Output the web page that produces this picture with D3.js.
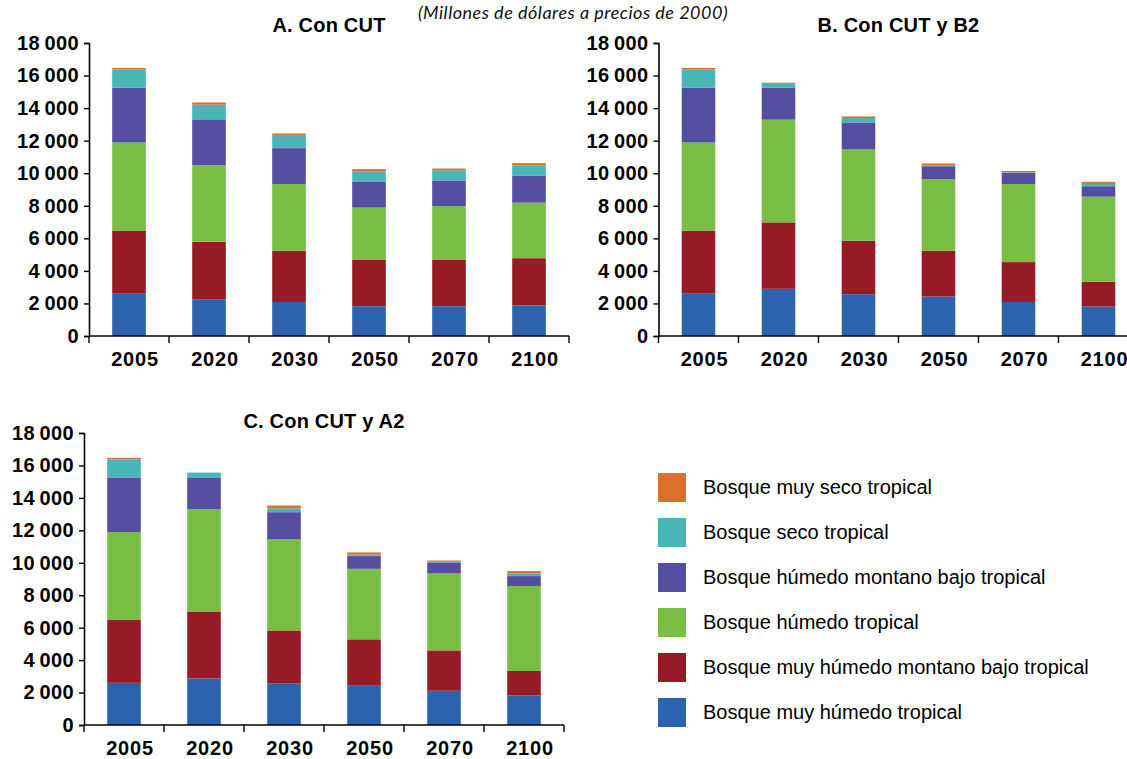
<!DOCTYPE html>
<html><head><meta charset="utf-8">
<script src="https://cdn.jsdelivr.net/npm/d3@7"></script>
<style>
body{margin:0;background:#fff;}
svg{display:block;}
</style></head>
<body>
<svg id="chart" width="1127" height="759"></svg>
<script>
const years = ["2005","2020","2030","2050","2070","2100"];
const seriesNames = [
  "Bosque muy húmedo tropical",
  "Bosque muy húmedo montano bajo tropical",
  "Bosque húmedo tropical",
  "Bosque húmedo montano bajo tropical",
  "Bosque seco tropical",
  "Bosque muy seco tropical"
];
const seriesColors = ["#2B63AF","#961B27","#78BE43","#544DA0","#48B5B6","#D9702B"];
const yTicks = [0,2000,4000,6000,8000,10000,12000,14000,16000,18000];
const subtitle = "(Millones de dólares a precios de 2000)";
const panelTitles = ["A. Con CUT","B. Con CUT y B2","C. Con CUT y A2"];

// Panel A: Con CUT
const aMuyHumedoTropical      = [2600, 2260, 2090, 1830, 1830, 1870];
const aMuyHumedoMontanoBajo   = [3870, 3530, 3150, 2870, 2870, 2910];
const aHumedoTropical         = [5420, 4700, 4100, 3190, 3270, 3410];
const aHumedoMontanoBajo      = [3370, 2820, 2200, 1600, 1580, 1670];
const aSecoTropical           = [1110,  900,  760,  610,  630,  610];
const aMuySecoTropical        = [ 100,  140,  140,  150,  110,  150];
// Panel B: Con CUT y B2
const bMuyHumedoTropical      = [2600, 2900, 2570, 2420, 2090, 1810];
const bMuyHumedoMontanoBajo   = [3870, 4080, 3280, 2820, 2450, 1520];
const bHumedoTropical         = [5420, 6310, 5610, 4390, 4800, 5230];
const bHumedoMontanoBajo      = [3370, 1970, 1660,  800,  680,  640];
const bSecoTropical           = [1110,  280,  270,   40,   40,  140];
const bMuySecoTropical        = [ 100,   20,  100,  130,   80,  130];
// Panel C: Con CUT y A2
const cMuyHumedoTropical      = [2600, 2870, 2570, 2420, 2110, 1830];
const cMuyHumedoMontanoBajo   = [3870, 4130, 3260, 2860, 2490, 1500];
const cHumedoTropical         = [5420, 6310, 5610, 4350, 4740, 5230];
const cHumedoMontanoBajo      = [3370, 1950, 1680,  780,  680,  620];
const cSecoTropical           = [1110,  300,  230,  100,   40,  160];
const cMuySecoTropical        = [ 100,    0,  180,  130,   80,  150];

const panelSeries = [
  [aMuyHumedoTropical,aMuyHumedoMontanoBajo,aHumedoTropical,aHumedoMontanoBajo,aSecoTropical,aMuySecoTropical],
  [bMuyHumedoTropical,bMuyHumedoMontanoBajo,bHumedoTropical,bHumedoMontanoBajo,bSecoTropical,bMuySecoTropical],
  [cMuyHumedoTropical,cMuyHumedoMontanoBajo,cHumedoTropical,cHumedoMontanoBajo,cSecoTropical,cMuySecoTropical]
];

const layouts = [
  {x0: 89,    x1: 569,    y0: 336, y1: 43,  titleY: 32},
  {x0: 658.5, x1: 1138.5, y0: 336, y1: 43,  titleY: 32},
  {x0: 84,    x1: 564,    y0: 725, y1: 433, titleY: 428}
];

const svg = d3.select("#chart");
const FONT = "'Liberation Sans', Arial, Helvetica, sans-serif";
const fmt = v => v >= 1000 ? d3.format(",")(v).replace(/,/g, "\u2009") : String(v);

svg.append("text")
  .attr("x", 573).attr("y", 19)
  .attr("text-anchor","middle")
  .attr("font-family","Lato, 'Open Sans', sans-serif")
  .attr("font-style","italic")
  .attr("font-size", 18)
  .attr("letter-spacing", "0.5")
  .attr("fill","#111")
  .text(subtitle);

panelSeries.forEach((series, p) => {
  const L = layouts[p];
  const g = svg.append("g");
  const x = d3.scaleBand().domain(years).range([L.x0, L.x1]).paddingInner(0.58).paddingOuter(0.29);
  const y = d3.scaleLinear().domain([0, 18000]).range([L.y0, L.y1]);

  const rows = years.map((yr, i) => {
    const r = {year: yr};
    seriesNames.forEach((n, k) => r[n] = series[k][i]);
    return r;
  });
  const stacked = d3.stack().keys(seriesNames)(rows);

  g.selectAll("g.layer").data(stacked).join("g")
    .attr("fill", (d, k) => seriesColors[k])
    .selectAll("rect").data(d => d).join("rect")
    .attr("x", d => x(d.data.year))
    .attr("width", x.bandwidth())
    .attr("y", d => y(d[1]))
    .attr("height", d => Math.max(0, y(d[0]) - y(d[1])));

  // y axis
  const ya = g.append("g").attr("transform", `translate(${L.x0},0)`)
    .call(d3.axisLeft(y).tickValues(yTicks).tickSize(5).tickPadding(5).tickFormat(fmt));
  ya.select(".domain").attr("stroke","#000").attr("stroke-width",1.6);
  ya.selectAll(".tick line").attr("stroke","#000").attr("stroke-width",1.4);
  ya.selectAll(".tick text").attr("font-family",FONT).attr("font-weight","bold")
    .attr("font-size",20).attr("fill","#000").attr("letter-spacing","0.4");

  // x axis: labels only, then boundary ticks
  const xa = g.append("g").attr("transform", `translate(0,${L.y0})`)
    .call(d3.axisBottom(x).tickSize(0).tickPadding(16));
  xa.select(".domain").remove();
  xa.selectAll(".tick text").attr("font-family",FONT).attr("font-weight","bold")
    .attr("font-size",20).attr("fill","#000").attr("dx", 6).attr("letter-spacing","0.8");
  g.append("line").attr("x1", L.x0).attr("x2", L.x1).attr("y1", L.y0).attr("y2", L.y0)
    .attr("stroke","#000").attr("stroke-width",1.6);
  const bounds = d3.range(years.length + 1).map(i => L.x0 + i * x.step());
  g.selectAll("line.xt").data(bounds).join("line").attr("class","xt")
    .attr("x1", d => d).attr("x2", d => d).attr("y1", L.y0).attr("y2", L.y0 + 7)
    .attr("stroke","#000").attr("stroke-width",1.4);

  g.append("text").attr("x", (L.x0 + L.x1) / 2).attr("y", L.titleY)
    .attr("text-anchor","middle").attr("font-family",FONT).attr("font-weight","bold")
    .attr("font-size",20).attr("fill","#000").attr("letter-spacing","0.2")
    .text(panelTitles[p]);
});

// legend (top to bottom: reverse stacking order)
const legendItems = seriesNames.map((n, k) => ({name: n, color: seriesColors[k]})).reverse();
const lg = svg.append("g");
const ly = d3.scaleBand().domain(legendItems.map(d => d.name)).range([465, 735]);
const li = lg.selectAll("g").data(legendItems).join("g")
  .attr("transform", d => `translate(658,${ly(d.name)})`);
li.append("rect").attr("x",0).attr("y", 8).attr("width",28).attr("height",29)
  .attr("fill", d => d.color);
li.append("text").attr("x",45).attr("y", 29)
  .attr("font-family",FONT).attr("font-size",20).attr("fill","#000")
  .attr("letter-spacing","0")
  .text(d => d.name);
</script>
</body></html>
